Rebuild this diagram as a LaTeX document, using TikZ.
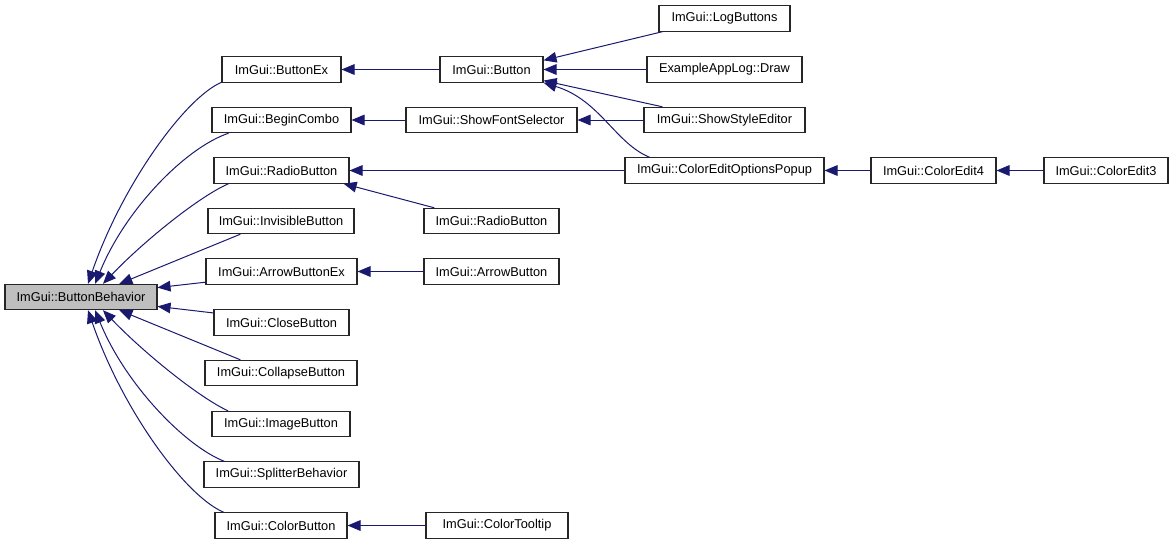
\documentclass[tikz,border=0pt]{standalone}
\usepackage{fontspec}
\setmainfont{Liberation Sans}
\usepackage{xcolor}
\usetikzlibrary{arrows.meta}

\definecolor{edgeblue}{HTML}{191970}
\definecolor{mainfill}{HTML}{BFBFBF}

\begin{document}
\begin{tikzpicture}[
    x=0.75pt, y=-0.75pt,
    font=\fontsize{9.6}{11}\selectfont,
    % Define specific node styles
    fn_node/.style={rectangle, draw=black!85, fill=white, line width=0.8pt, minimum width=#1, minimum height=19pt, inner sep=0pt},
    callee_node/.style={fn_node=#1, fill=mainfill},
    arrow/.style={-{Triangle[length=9.75pt, width=8pt]}, draw=edgeblue, line width=0.75pt},
]
\useasboundingbox (0,0) rectangle (1173,544);

% Called function (left)
\node[callee_node=114pt] (bb) at (81,297) {ImGui::ButtonBehavior};

% Direct callers
\node[fn_node=89.25pt] (bex) at (281.5,69.5) {ImGui::ButtonEx};
\node[fn_node=104.25pt] (bcombo) at (281.5,120) {ImGui::BeginCombo};
\node[fn_node=101.25pt] (radio) at (281.5,170.5) {ImGui::RadioButton};
\node[fn_node=109.5pt] (invis) at (281,221) {ImGui::InvisibleButton};
\node[fn_node=113.25pt] (arrowex) at (281.5,271.5) {ImGui::ArrowButtonEx};
\node[fn_node=101.25pt] (close) at (281.5,322.5) {ImGui::CloseButton};
\node[fn_node=114pt] (collapse) at (281,373) {ImGui::CollapseButton};
\node[fn_node=103.5pt] (image) at (281,424) {ImGui::ImageButton};
\node[fn_node=116.25pt] (splitter) at (281.5,474.5) {ImGui::SplitterBehavior};
\node[fn_node=99pt] (colorbtn) at (281,525.5) {ImGui::ColorButton};

% Second level
\node[fn_node=77.25pt] (button) at (491.5,69.5) {ImGui::Button};
\node[fn_node=128.25pt] (fontsel) at (491.5,120) {ImGui::ShowFontSelector};
\node[fn_node=101.25pt] (radiotwo) at (491.5,221) {ImGui::RadioButton};
\node[fn_node=101.25pt] (arrowbtn) at (491.5,271.5) {ImGui::ArrowButton};
\node[fn_node=106.5pt] (tooltip) at (497,525.5) {ImGui::ColorTooltip};

% Third level and beyond
\node[fn_node=98.25pt] (logbtn) at (724.5,18.5) {ImGui::LogButtons};
\node[fn_node=116.25pt] (applog) at (724.5,69.5) {ExampleAppLog::Draw};
\node[fn_node=120.75pt] (styleed) at (724.5,120) {ImGui::ShowStyleEditor};
\node[fn_node=149.25pt] (popup) at (724.5,170.5) {ImGui::ColorEditOptionsPopup};
\node[fn_node=93.75pt] (edit4) at (933.5,170.5) {ImGui::ColorEdit4};
\node[fn_node=93pt] (edit3) at (1106,170.5) {ImGui::ColorEdit3};

% Connections into ButtonBehavior
\draw[arrow] (bex.192) .. controls (185,98) and (122,185) .. (bb.62);
\draw[arrow] (bcombo.194) .. controls (185,148) and (125,210) .. (bb.43);
\draw[arrow] (radio.194) .. controls (200,196) and (145,240) .. (bb.31);
\draw[arrow] (invis.198) -- (bb.19);
\draw[arrow] (arrowex.188) -- (bb.7);
\draw[arrow] (close.172) -- (bb.353);
\draw[arrow] (collapse.162) -- (bb.341);
\draw[arrow] (image.166) .. controls (200,398) and (145,354) .. (bb.329);
\draw[arrow] (splitter.167) .. controls (185,446) and (125,384) .. (bb.317);
\draw[arrow] (colorbtn.167) .. controls (185,496) and (122,409) .. (bb.298);

% Second level connections
\draw[arrow] (button) -- (bex);
\draw[arrow] (fontsel) -- (bcombo);
\draw[arrow] (popup) -- (radio);
\draw[arrow] (radiotwo.167) -- (radio.348);
\draw[arrow] (arrowbtn) -- (arrowex);
\draw[arrow] (tooltip) -- (colorbtn);

% Right side connections
\draw[arrow] (logbtn.192) -- (button.10);
\draw[arrow] (applog) -- (button);
\draw[arrow] (styleed.168) -- (button.348);
\draw[arrow] (popup.170) .. controls (615,143) and (600,100) .. (button.south east);
\draw[arrow] (styleed) -- (fontsel);
\draw[arrow] (edit4) -- (popup);
\draw[arrow] (edit3) -- (edit4);

\end{tikzpicture}
\end{document}
